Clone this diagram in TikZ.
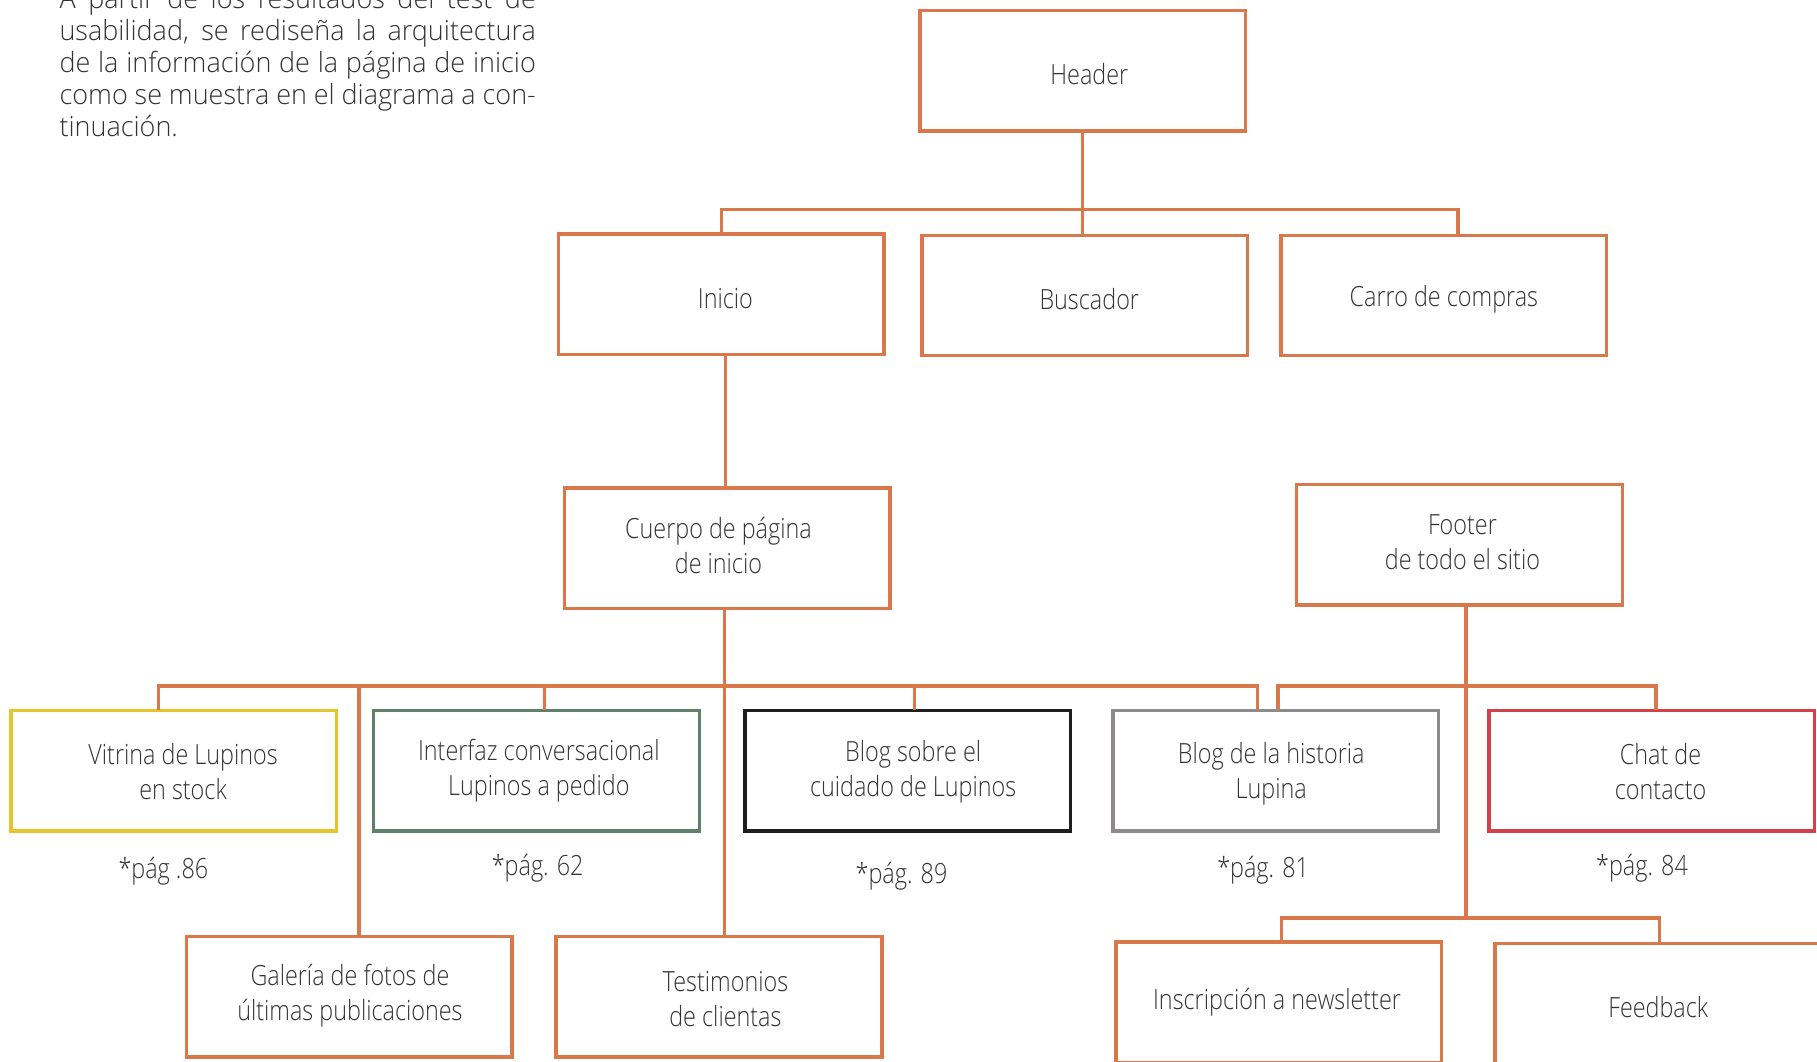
\documentclass[tikz,border=0pt]{standalone}
\usepackage{fontspec}
\setmainfont{Open Sans}
\newfontfamily\boxfont{Open Sans Light}[FakeStretch=0.84]
\newfontfamily\parafont{Open Sans Light}[FakeStretch=0.97]
\definecolor{linkorange}{HTML}{D9784A}
\definecolor{txtgray}{HTML}{333333}
\definecolor{boxyellow}{HTML}{E6C42C}
\definecolor{boxgreen}{HTML}{5F806B}
\definecolor{boxblack}{HTML}{1E1E1E}
\definecolor{boxgray}{HTML}{8C8A8A}
\definecolor{boxred}{HTML}{D2414B}
\tikzset{
  box/.style={draw=#1, line width=1.5pt, rectangle, inner sep=0pt, outer sep=0pt,
    minimum width=140.5pt, minimum height=52pt},
  box/.default=linkorange,
  boxtext/.style={align=center, inner sep=0pt,
    font=\boxfont\fontsize{12}{15}\selectfont, text=txtgray},
  link/.style={draw=linkorange, line width=1.5pt},
  pagelabel/.style={font=\boxfont\fontsize{12}{15}\selectfont, text=txtgray, inner sep=0pt},
  paraline/.style={font=\parafont\fontsize{12}{13.75}\selectfont, text=txtgray,
    inner sep=0pt, anchor=base west}
}
\begin{document}
\begin{tikzpicture}[x=0.5pt,y=-0.5pt]
\useasboundingbox (0,0) rectangle (1568,916);
\begin{scope}
\clip (0,0) rectangle (1568,916);

% introductory paragraph
\node[paraline] (p1) at (51,7.5) {\makebox[205.5pt][s]{A partir de los resultados del test de}};
\node[paraline] (p2) at (51,35) {\makebox[205.5pt][s]{usabilidad, se rediseña la arquitectura}};
\node[paraline] (p3) at (51,62.5) {\makebox[205.5pt][s]{de la información de la página de inicio}};
\node[paraline] (p4) at (51,90) {\makebox[205.5pt][s]{como se muestra en el diagrama a con-}};
\node[paraline] (p5) at (51,117.5) {tinuación.};

% first level
\node[box] (header) at (934.5,61) {};
\node[box] (inicio) at (622.5,254) {};
\node[box] (buscador) at (936,255) {};
\node[box] (carro) at (1246,255) {};

% second level
\node[box] (cuerpo) at (627.5,473) {};
\node[box] (footer) at (1259.5,470) {};

% sections of the home page and the footer
\node[box=boxyellow] (vitrina) at (150,665) {};
\node[box=boxgreen] (interfaz) at (463,665) {};
\node[box=boxblack] (blogcuid) at (783.5,665) {};
\node[box=boxgray] (bloghist) at (1101,665) {};
\node[box=boxred] (chat) at (1425.5,665) {};

\node[box] (galeria) at (301.5,860) {};
\node[box] (testim) at (620.5,860) {};
\node[box] (inscr) at (1103.5,865) {};
\node[box] (feedback) at (1430.5,866) {};

% box captions
\node[boxtext] (headerT) at (940,64) {Header};
\node[boxtext] (inicioT) at (626,258) {Inicio};
\node[boxtext] (buscadorT) at (940,258) {Buscador};
\node[boxtext] (carroT) at (1246,258) {Carro de compras};
\node[boxtext] (cuerpoT) at (620,471) {Cuerpo de página\\de inicio};
\node[boxtext] (footerT) at (1262,468) {Footer\\de todo el sitio};
\node[boxtext] (vitrinaT) at (158,666) {Vitrina de Lupinos\\en stock};
\node[boxtext] (interfazT) at (465,665) {Interfaz conversacional\\Lupinos a pedido};
\node[boxtext] (blogcuidT) at (788,666) {Blog sobre el\\cuidado de Lupinos};
\node[boxtext] (bloghistT) at (1097,667.5) {Blog de la historia\\Lupina};
\node[boxtext] (chatT) at (1433,666) {Chat de\\contacto};
\node[boxtext] (galeriaT) at (302,859) {Galería de fotos de\\últimas publicaciones};
\node[boxtext] (testimT) at (626,862) {Testimonios\\de clientas};
\node[boxtext] (inscrT) at (1102,865) {Inscripción a newsletter};
\node[boxtext] (feedbackT) at (1431,869) {Feedback};

% page references
\node[pagelabel] (pg86) at (141,752) {*pág .86};
\node[pagelabel] (pg62) at (464,749) {*pág. 62};
\node[pagelabel] (pg89) at (778,756) {*pág. 89};
\node[pagelabel] (pg81) at (1090,751) {*pág. 81};
\node[pagelabel] (pg84) at (1417,749) {*pág. 84};

% junction points of the connectors
\coordinate (hb) at (934,181);
\coordinate (hc) at (1258,181);
\coordinate (ic) at (626,380);
\coordinate (b1) at (137,592);
\coordinate (b2) at (1085,592);
\coordinate (b3) at (470,592);
\coordinate (b4) at (789,592);
\coordinate (b5) at (310,592);
\coordinate (bc) at (625,592);
\coordinate (f1) at (1265,592);
\coordinate (f2) at (1103,592);
\coordinate (f3) at (1429,592);
\coordinate (r0) at (1265,792);
\coordinate (r1) at (1106,792);
\coordinate (r2) at (1432,792);

% header tree
\draw[link] (header.south -| hb) -- (hb |- buscador.north);
\draw[link] (inicio.north) -- (inicio.north |- hb) -- (hc) -- (hc |- carro.north);
\draw[link] (inicio.south -| ic) -- (ic |- cuerpo.north);

% home page body tree
\draw[link] (cuerpo.south -| bc) -- (bc |- testim.north);
\draw[link] (b1 |- vitrina.north) -- (b1) -- (b2) -- (b2 |- bloghist.north);
\draw[link] (b5) -- (b5 |- galeria.north);
\draw[link] (b3) -- (b3 |- interfaz.north);
\draw[link] (b4) -- (b4 |- blogcuid.north);

% footer tree
\draw[link] (footer.south -| f1) -- (r0);
\draw[link] (f2 |- bloghist.north) -- (f2) -- (f3) -- (f3 |- chat.north);
\draw[link] (r1 |- inscr.north) -- (r1) -- (r2) -- (r2 |- feedback.north);
\end{scope}
\end{tikzpicture}
\end{document}
